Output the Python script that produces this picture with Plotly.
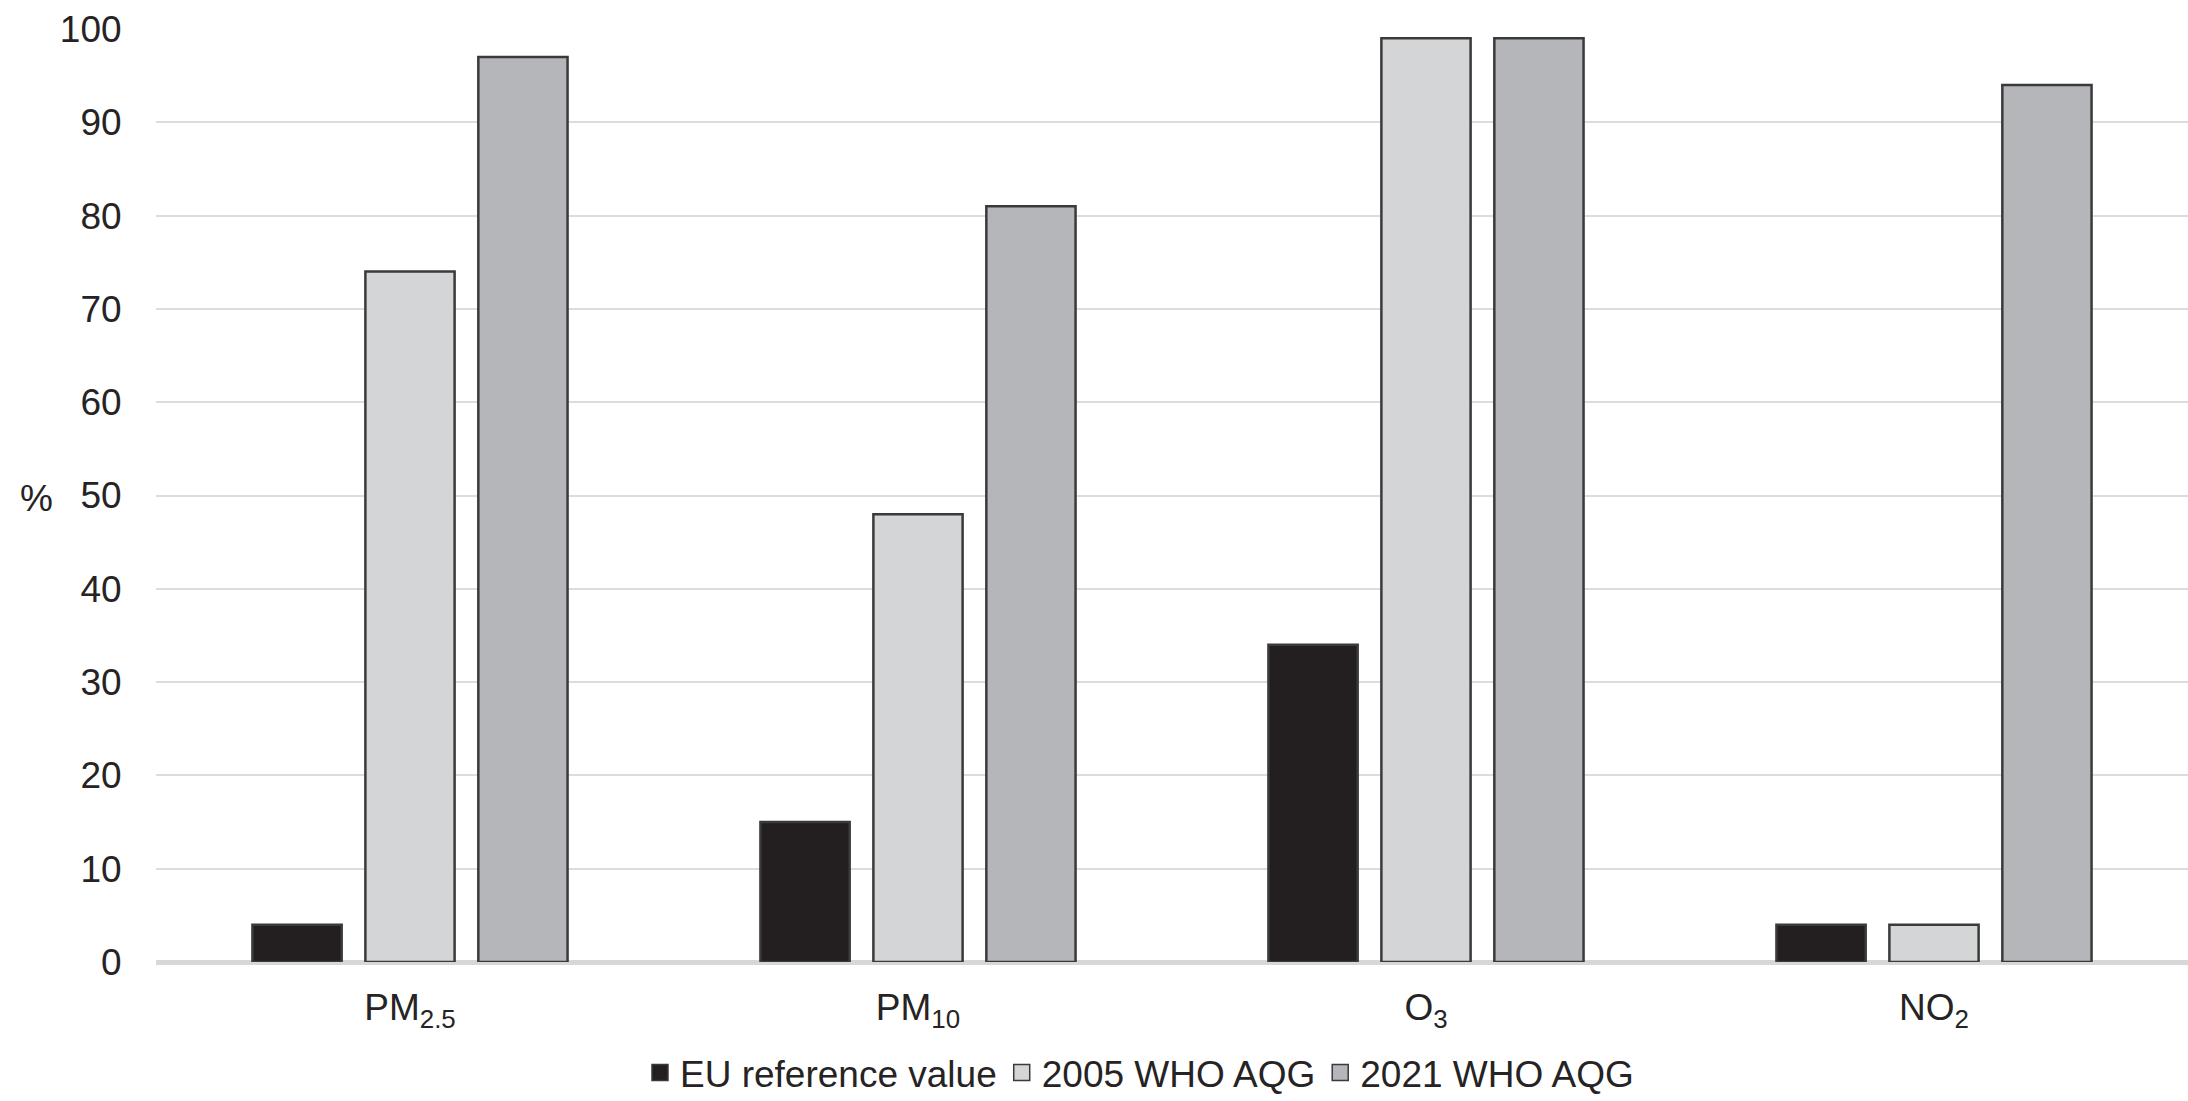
import plotly.graph_objects as go

categories = ["PM<sub>2.5</sub>", "PM<sub>10</sub>", "O<sub>3</sub>", "NO<sub>2</sub>"]
eu_reference = [4, 15, 34, 4]
who_2005 = [74, 48, 99, 4]
who_2021 = [97, 81, 99, 94]
series_names = ["EU reference value", "2005 WHO AQG", "2021 WHO AQG"]
y_ticks = [0, 10, 20, 30, 40, 50, 60, 70, 80, 90, 100]

colors = ["#231f20", "#d4d5d7", "#b5b6ba"]
font_family = "Liberation Sans, Arial, sans-serif"
text_color = "#262324"
outline = "#3a3a3a"

fig = go.Figure()
for name, vals, col in zip(series_names, [eu_reference, who_2005, who_2021], colors):
    fig.add_trace(go.Bar(
        x=categories, y=vals, name=name, showlegend=False,
        marker=dict(color=col, line=dict(color=outline, width=2.5)),
    ))
# legend entries with larger square symbols
for name, col in zip(series_names, colors):
    fig.add_trace(go.Scatter(
        x=[None], y=[None], mode="markers", name=name,
        marker=dict(symbol="square", size=16, color=col, line=dict(color=outline, width=1.5)),
        hoverinfo="skip",
    ))

fig.update_layout(
    width=2188, height=1101,
    margin=dict(l=156, r=0, t=29, b=139, autoexpand=False),
    paper_bgcolor="white", plot_bgcolor="white",
    barmode="group", bargap=0.333, bargroupgap=0.21,
    font=dict(family=font_family, size=37, color=text_color),
    showlegend=True,
    legend=dict(
        orientation="h", x=0.484, y=-0.119, xanchor="center", yanchor="middle",
        font=dict(size=37, color=text_color), traceorder="normal",
        itemsizing="trace", itemwidth=30, bgcolor="rgba(0,0,0,0)",
    ),
    xaxis=dict(
        showgrid=False, showline=False, zeroline=False,
        ticks="outside", ticklen=13, tickcolor="rgba(0,0,0,0)",
        tickfont=dict(size=37, color=text_color),
    ),
    yaxis=dict(
        range=[0, 100], tickvals=y_ticks,
        showgrid=True, gridcolor="#dcdcdc", gridwidth=2,
        zeroline=True, zerolinecolor="#d6d7d9", zerolinewidth=5,
        showline=False,
        ticks="outside", ticklen=26, tickcolor="rgba(0,0,0,0)",
        tickfont=dict(size=37, color=text_color),
    ),
    annotations=[dict(
        text="%", xref="paper", yref="paper", x=-0.0586, y=0.497,
        xanchor="center", yanchor="middle", showarrow=False,
        font=dict(size=37, color=text_color),
    )],
)

fig.write_html("out.html")
